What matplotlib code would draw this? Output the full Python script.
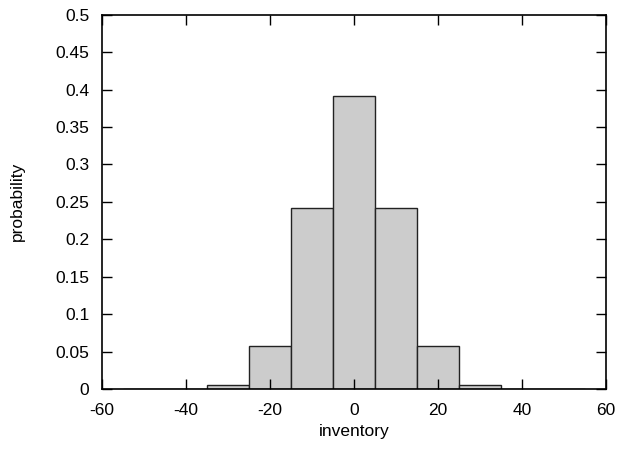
import matplotlib
matplotlib.use("Agg")
import matplotlib.pyplot as plt

# histogram of inventory levels (bin centres, width 10)
bin_centres = [-50, -40, -30, -20, -10, 0, 10, 20, 30, 40, 50]
probability = [0.00002, 0.0004, 0.0054, 0.057, 0.2415, 0.391, 0.2415, 0.057, 0.0054, 0.0004, 0.00002]
bin_width = 10

x_ticks = [-60, -40, -20, 0, 20, 40, 60]
y_ticks = [0, 0.05, 0.1, 0.15, 0.2, 0.25, 0.3, 0.35, 0.4, 0.45, 0.5]
y_tick_labels = ["0", "0.05", "0.1", "0.15", "0.2", "0.25", "0.3", "0.35",
                 "0.4", "0.45", "0.5"]

plt.rcParams["font.family"] = ["Liberation Sans", "DejaVu Sans"]
FS = 12.5

fig = plt.figure(figsize=(6.19, 4.49), dpi=100)
ax = fig.add_axes([0.1643, 0.1336, 0.979 - 0.1643, 0.9673 - 0.1336])

ax.bar(bin_centres, probability, width=bin_width, color="#cccccc",
       edgecolor="#222222", linewidth=1.0)

ax.set_xlim(-60, 60)
ax.set_ylim(0, 0.5)
ax.set_xticks(x_ticks)
ax.set_xticklabels([str(t) for t in x_ticks])
ax.set_yticks(y_ticks)
ax.set_yticklabels(y_tick_labels)
ax.tick_params(direction="in", length=7, width=1, top=True, right=True,
               labelsize=FS, colors="black")
ax.tick_params(axis="x", pad=10)
ax.tick_params(axis="y", pad=9)
for s in ax.spines.values():
    s.set_linewidth(1.2)

ax.set_xlabel("inventory", fontsize=FS)
ax.set_ylabel("probability", fontsize=FS)
ax.xaxis.set_label_coords(0.5, -0.094)
ax.yaxis.set_label_coords(-0.152, 0.5)

fig.savefig("out.png", dpi=100, facecolor="white")
